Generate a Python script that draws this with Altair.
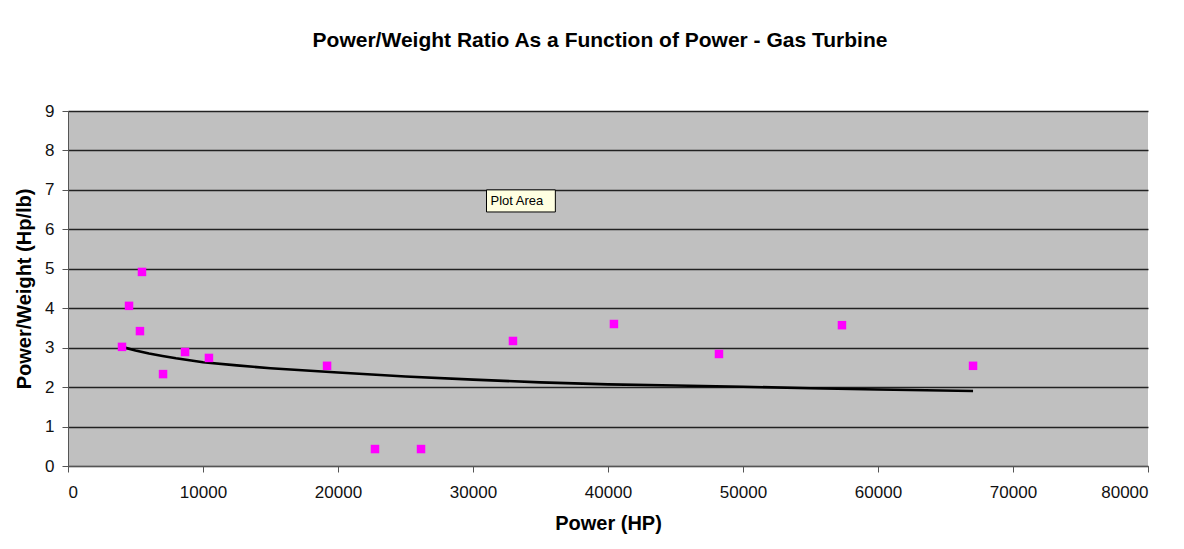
import altair as alt
import pandas as pd

# Data points
power_hp = [4000, 4520, 5480, 5330, 7040, 8670, 10440, 19190, 22740, 26150,
            32960, 40440, 48220, 57330, 67040]
pw_ratio = [3.02, 4.06, 4.92, 3.42, 2.33, 2.89, 2.74, 2.54, 0.43, 0.43,
            3.17, 3.60, 2.84, 3.57, 2.54]

# Trendline (power fit drawn in the original), read along its path
trend_x = [4000, 5000, 6000, 7000, 8000, 10000, 12500, 15000, 20000, 25000,
           30000, 35000, 40000, 45000, 50000, 55000, 60000, 67040]
trend_y = [3.02, 2.93, 2.85, 2.79, 2.73, 2.63, 2.55, 2.48, 2.37, 2.27,
           2.19, 2.12, 2.07, 2.04, 2.01, 1.97, 1.94, 1.90]

# "Plot Area" tooltip annotation seen in the screenshot
note_text = ["Plot Area"]
note_x = [31000]
note_x2 = [36100]
note_y = [7.0]
note_y2 = [6.44]

pts = pd.DataFrame({"power": power_hp, "ratio": pw_ratio})
trend = pd.DataFrame({"power": trend_x, "ratio": trend_y})
note = pd.DataFrame({"t": note_text, "x": note_x, "x2": note_x2,
                     "y": note_y, "y2": note_y2})

FONT = "Liberation Sans"

xscale = alt.Scale(domain=[0, 80000], nice=False, zero=True)
yscale = alt.Scale(domain=[0, 9], nice=False)

xaxis = alt.Axis(title="Power (HP)", values=list(range(0, 80001, 10000)),
                 format="d", grid=False, tickSize=6, labelPadding=12,
                 titlePadding=13, labelFontSize=17, titleFontSize=20,
                 titleFontWeight="bold", labelFont=FONT, titleFont=FONT,
                 labelOverlap=False,
                 domainColor="#555555", tickColor="#555555",
                 labelColor="#111111", titleColor="black")
yaxis = alt.Axis(title="Power/Weight (Hp/lb)", values=list(range(0, 10)),
                 grid=True, gridColor="#222222", gridWidth=1.3,
                 tickSize=6, labelPadding=8, titlePadding=10,
                 labelFontSize=17, titleFontSize=20, titleFontWeight="bold",
                 labelFont=FONT, titleFont=FONT, labelOverlap=False,
                 domainColor="#555555", tickColor="#555555",
                 labelColor="#111111", titleColor="black")


def X(field):
    return alt.X(field, scale=xscale, axis=xaxis)


def Y(field):
    return alt.Y(field, scale=yscale, axis=yaxis)


line = alt.Chart(trend).mark_line(color="black", strokeWidth=2.6).encode(
    x=X("power:Q"), y=Y("ratio:Q"))

points = alt.Chart(pts).mark_square(size=72, color="#FF00FF", opacity=1).encode(
    x=X("power:Q"), y=Y("ratio:Q"))

box = alt.Chart(note).mark_rect(fill="#FFFFE1", stroke="black", strokeWidth=1).encode(
    x=X("x:Q"), x2="x2:Q", y=Y("y:Q"), y2="y2:Q")
label = alt.Chart(note).mark_text(font=FONT, fontSize=13, color="black",
                                  align="left", baseline="middle", dx=4).encode(
    x=X("x:Q"), y=Y("mid:Q"), text="t:N").transform_calculate(
    mid="(datum.y + datum.y2) / 2")

chart = alt.layer(line, points, box, label).properties(
    width=1080, height=355,
    autosize=alt.AutoSizeParams(type="none"),
    padding={"left": 60, "top": 103, "right": 28, "bottom": 70},
    background="white",
    title=alt.TitleParams(
        "Power/Weight Ratio As a Function of Power - Gas Turbine",
        font=FONT, fontSize=21, fontWeight="bold", color="black",
        anchor="middle", offset=51, dx=-8),
).configure_view(fill="#C0C0C0", stroke=None)

chart.save("out.html", embed_options={"renderer": "svg", "actions": False})
